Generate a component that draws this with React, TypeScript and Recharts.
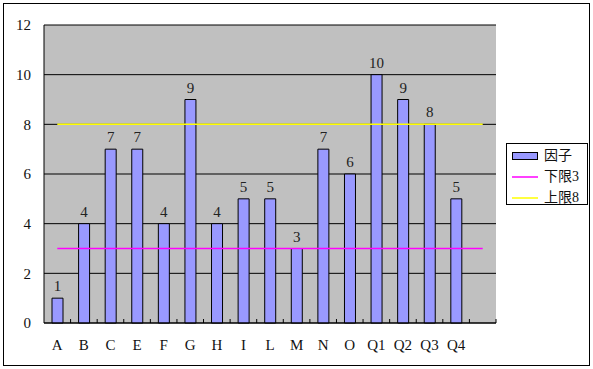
import React from 'react';
import {
  ComposedChart,
  Bar,
  Line,
  XAxis,
  YAxis,
  CartesianGrid,
  Legend,
  LabelList,
} from 'recharts';

const categories = ['A', 'B', 'C', 'E', 'F', 'G', 'H', 'I', 'L', 'M', 'N', 'O', 'Q1', 'Q2', 'Q3', 'Q4', ''];
const factorValues = [1, 4, 7, 7, 4, 9, 4, 5, 5, 3, 7, 6, 10, 9, 8, 5];
const lowerLimit = [3, 3, 3, 3, 3, 3, 3, 3, 3, 3, 3, 3, 3, 3, 3, 3, 3];
const upperLimit = [8, 8, 8, 8, 8, 8, 8, 8, 8, 8, 8, 8, 8, 8, 8, 8, 8];
const yTicks = [0, 2, 4, 6, 8, 10, 12];
const seriesNames = ['因子', '下限3', '上限8'];

const data = categories.map((c, i) => ({
  cat: c,
  factor: factorValues[i],
  lower: lowerLimit[i],
  upper: upperLimit[i],
}));

const FONT = '"Liberation Serif", "Times New Roman", "Noto Sans CJK SC", serif';

const XTick = (props: any) => {
  const { x, y, payload } = props;
  const off = payload && typeof payload.offset === 'number' ? payload.offset : 0;
  return (
    <g>
      <line x1={x + off} x2={x + off} y1={y} y2={y - 4} stroke="#000" strokeWidth={1} />
      <text x={x} y={y + 27} textAnchor="middle" fontFamily={FONT} fontSize={15} fill="#111">
        {payload.value}
      </text>
    </g>
  );
};

const LegendContent = (props: any) => {
  const payload = [...(props.payload || [])].sort(
    (a: any, b: any) => seriesNames.indexOf(a.value) - seriesNames.indexOf(b.value)
  );
  return (
    <div
      style={{
        width: 82,
        height: 62,
        border: '1px solid #000',
        boxSizing: 'border-box',
        background: '#fff',
        position: 'relative',
        fontFamily: FONT,
        fontSize: 14,
        color: '#111',
      }}
    >
      {payload.map((p: any, i: number) => (
        <div
          key={p.value}
          style={{
            position: 'absolute',
            left: 5,
            top: 2 + i * 21,
            height: 20,
            display: 'flex',
            alignItems: 'center',
            whiteSpace: 'nowrap',
          }}
        >
          <svg width={26} height={10} style={{ display: 'block' }}>
            {p.type === 'rect' ? (
              <rect x={0.5} y={1.5} width={25} height={7} fill={p.color} stroke="#000" strokeWidth={1} />
            ) : (
              <line x1={0} x2={26} y1={5} y2={5} stroke={p.color} strokeWidth={1.5} />
            )}
          </svg>
          <span style={{ marginLeft: 6, lineHeight: '20px' }}>{p.value}</span>
        </div>
      ))}
    </div>
  );
};

export default function App() {
  return (
    <div style={{ position: 'absolute', left: 0, top: 0, width: 593, height: 369, background: '#fff' }}>
      <div
        style={{
          position: 'absolute',
          left: 3,
          top: 3,
          width: 587,
          height: 363,
          border: '1px solid #000',
          boxSizing: 'border-box',
        }}
      />
      <div style={{ position: 'absolute', left: 0, top: 0 }}>
        <ComposedChart
          width={593}
          height={369}
          data={data}
          margin={{ top: 25, right: 97, bottom: 16, left: 0 }}
        >
          <CartesianGrid
            xAxisId="x"
            yAxisId="y"
            vertical={false}
            stroke="#000"
            strokeOpacity={1}
            fill="#C0C0C0"
            fillOpacity={1}
          />
          <XAxis
            dataKey="cat"
            xAxisId="x"
            height={30}
            axisLine={{ stroke: '#000' }}
            tickLine={false}
            tickSize={0}
            tickMargin={0}
            interval={0}
            tick={<XTick />}
          />
          <YAxis
            yAxisId="y"
            width={44}
            domain={[0, 12]}
            ticks={yTicks}
            interval={0}
            axisLine={{ stroke: '#000' }}
            tickLine={false}
            tickSize={0}
            tickMargin={13}
            tick={{ fontFamily: FONT, fontSize: 15, fill: '#111' }}
          />
          <YAxis
            yAxisId="r"
            orientation="right"
            width={0}
            domain={[0, 12]}
            axisLine={{ stroke: '#000' }}
            tick={false}
            tickLine={false}
          />
          <Bar
            dataKey="factor"
            name={seriesNames[0]}
            xAxisId="x"
            yAxisId="y"
            fill="#9999FF"
            stroke="#000"
            strokeWidth={1}
            barSize={11}
            legendType="rect"
            isAnimationActive={false}
          >
            <LabelList
              dataKey="factor"
              position="top"
              offset={7}
              fontFamily={FONT}
              fontSize={15}
              fill="#222"
            />
          </Bar>
          <Line
            dataKey="lower"
            name={seriesNames[1]}
            xAxisId="x"
            yAxisId="y"
            stroke="#FF00FF"
            strokeWidth={1.5}
            dot={false}
            legendType="line"
            isAnimationActive={false}
          />
          <Line
            dataKey="upper"
            name={seriesNames[2]}
            xAxisId="x"
            yAxisId="y"
            stroke="#FFFF00"
            strokeWidth={1.5}
            dot={false}
            legendType="line"
            isAnimationActive={false}
          />
          <Legend
            layout="vertical"
            align="center"
            verticalAlign="middle"
            content={<LegendContent />}
            wrapperStyle={{ left: 506, top: 143, width: 82, height: 62 }}
          />
        </ComposedChart>
      </div>
    </div>
  );
}
